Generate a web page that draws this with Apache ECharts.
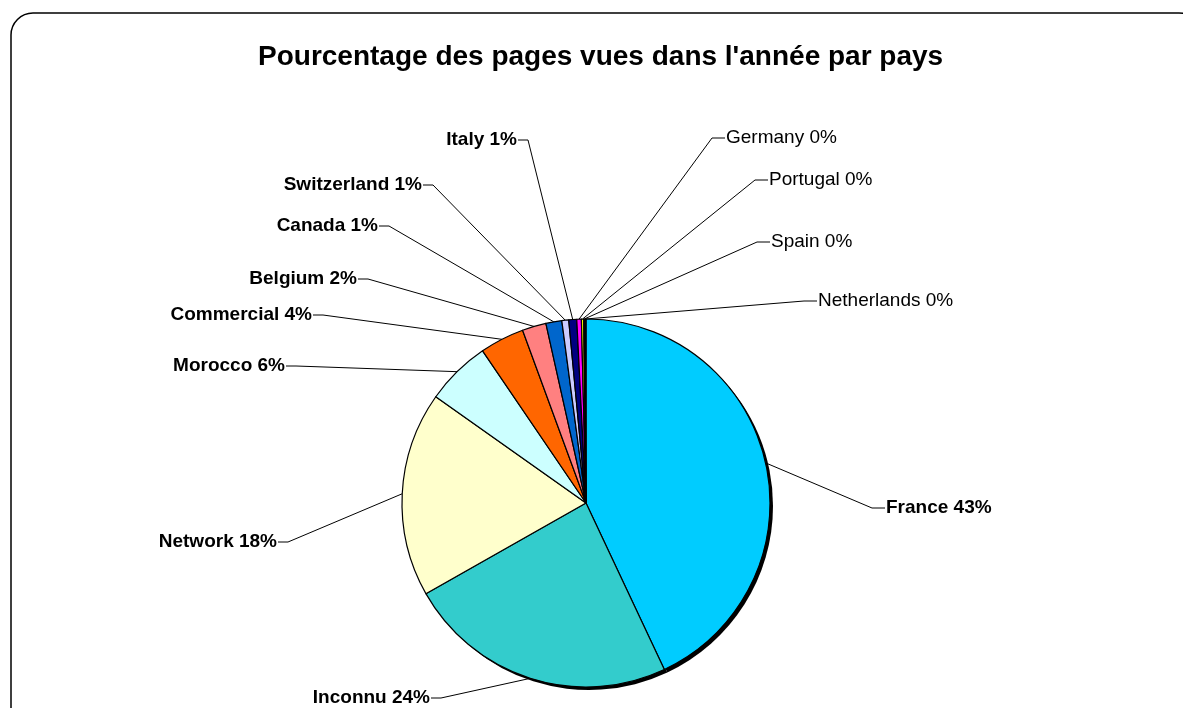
<!DOCTYPE html>
<html>
<head>
<meta charset="utf-8">
<title>Pourcentage des pages vues</title>
<script src="https://cdn.jsdelivr.net/npm/echarts@6/dist/echarts.min.js"></script>
<style>
  html, body { margin: 0; padding: 0; background: #fff; }
  #chart { width: 1183px; height: 708px; }
</style>
</head>
<body>
<div id="chart"></div>
<script>
// data (percent of page views)
var countries = ['France', 'Inconnu', 'Network', 'Morocco', 'Commercial', 'Belgium', 'Canada',
                 'Switzerland', 'Italy', 'Germany', 'Portugal', 'Spain', 'Netherlands'];
var shares = [43.0, 23.8, 18.0, 5.7, 3.9, 2.1, 1.4, 0.6, 0.7, 0.4, 0.2, 0.1, 0.1];

// styles
var colors = ['#00CCFF', '#33CCCC', '#FFFFCC', '#CCFFFF', '#FF6600', '#FF8080', '#0066CC',
              '#CCCCFF', '#000080', '#FF00FF', '#FFFF00', '#00FFFF', '#800080'];
// where each label sits: [x, y, align]
var labelSpots = [
  [886, 508, 'left'], [430, 698, 'right'], [277, 542, 'right'], [285, 366, 'right'],
  [312, 315, 'right'], [357, 279, 'right'], [378, 226, 'right'], [422, 185, 'right'],
  [517, 140, 'right'], [726, 138, 'left'], [769, 180, 'left'], [771, 242, 'left'],
  [818, 301, 'left']
];
var font = "'Liberation Sans', Arial, sans-serif";

var pieData = countries.map(function (name, i) {
  return {
    name: name,
    value: shares[i],
    itemStyle: { color: colors[i] },
    label: { fontWeight: i < 9 ? 'bold' : 'normal' }
  };
});

var chart = echarts.init(document.getElementById('chart'));
var option = {
  animation: false,
  backgroundColor: '#fff',
  title: {
    text: "Pourcentage des pages vues dans l'année par pays",
    left: 253,
    top: 38,
    textStyle: { fontFamily: font, fontSize: 28, fontWeight: 'bold', color: '#000' }
  },
  graphic: [{
    type: 'rect',
    silent: true,
    z: -10,
    shape: { x: 11, y: 13, width: 1190, height: 730, r: 22 },
    style: { fill: null, stroke: '#000', lineWidth: 1.5 }
  }],
  series: [
    {
      // solid drop shadow under the pie
      type: 'pie',
      silent: true,
      center: [589, 506],
      radius: 184,
      z: 1,
      label: { show: false },
      labelLine: { show: false },
      itemStyle: { color: '#000' },
      data: shares.slice()
    },
    {
      type: 'pie',
      center: [586, 503],
      radius: 184,
      z: 2,
      startAngle: 90,
      clockwise: true,
      percentPrecision: 0,
      avoidLabelOverlap: false,
      itemStyle: { borderColor: '#000', borderWidth: 1.2 },
      label: {
        show: true,
        formatter: '{b} {d}%',
        fontFamily: font,
        fontSize: 19,
        color: '#000'
      },
      labelLine: { show: true, lineStyle: { color: '#000', width: 1 } },
      labelLayout: function (p) {
        var s = labelSpots[p.dataIndex];
        var anchor = p.labelLinePoints ? p.labelLinePoints[0] : null;
        var elbow = s[2] === 'left' ? s[0] - 14 : s[0] + 11;
        var end = s[2] === 'left' ? s[0] - 1 : s[0] + 1;
        var out = { x: s[0], y: s[1], align: s[2], verticalAlign: 'middle' };
        if (anchor) out.labelLinePoints = [anchor, [elbow, s[1]], [end, s[1]]];
        return out;
      },
      emphasis: { disabled: true },
      data: pieData
    }
  ]
};
chart.setOption(option);
</script>
</body>
</html>
